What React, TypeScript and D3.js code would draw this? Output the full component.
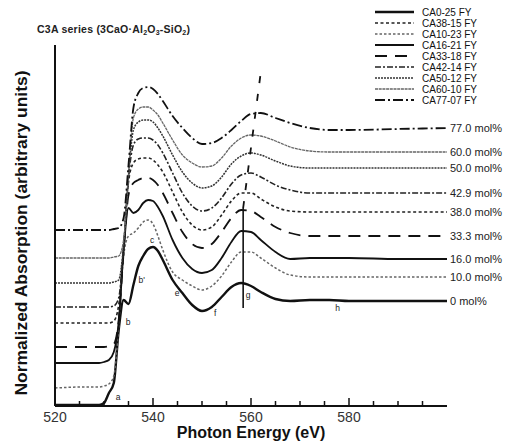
import React from "react";
import * as d3 from "d3";

// photon energy grid (eV) shared by all spectra
const energy = [520, 526, 529, 530, 531, 532, 533, 534, 535, 536, 537, 538, 539, 540, 541, 542, 544, 546, 548, 550, 552, 554, 556, 558, 560, 562, 565, 568, 572, 576, 580, 590, 600];

// normalized absorption, stacked (arbitrary units)
const ca0_25 = [0.1, 0.1, 0.1, 0.3, 1.3, 2.3, 7.6, 10.6, 10.2, 12.1, 14.0, 15.0, 15.7, 15.9, 15.5, 14.6, 12.6, 11.3, 10.1, 9.5, 9.9, 10.9, 11.9, 12.3, 12.0, 11.4, 10.7, 10.5, 10.6, 10.6, 10.5, 10.5, 10.5];
const ca10_23 = [1.8, 1.9, 1.9, 2.0, 2.2, 3.0, 8.0, 15.0, 17.0, 17.3, 17.8, 18.4, 18.6, 18.2, 17.0, 15.6, 13.4, 12.6, 12.0, 11.6, 12.0, 13.0, 14.4, 15.4, 15.4, 14.8, 13.8, 13.1, 12.9, 12.9, 12.9, 12.9, 12.9];
const ca16_21 = [4.3, 4.3, 4.3, 4.4, 4.6, 5.4, 8.4, 15.6, 19.8, 19.3, 19.6, 20.3, 20.6, 20.5, 19.9, 19.0, 16.6, 14.8, 13.7, 13.3, 13.6, 14.8, 16.4, 17.5, 17.4, 16.6, 15.4, 14.7, 14.8, 14.8, 14.8, 14.7, 14.7];
const ca33_18 = [5.9, 5.9, 5.9, 5.9, 6.0, 6.2, 8.6, 15.4, 21.1, 22.3, 22.6, 22.8, 22.8, 22.6, 22.1, 21.3, 19.3, 17.4, 16.2, 15.8, 16.2, 17.4, 18.8, 19.6, 19.5, 18.9, 17.9, 17.3, 17.0, 17.0, 17.0, 17.0, 17.0];
const ca38_15 = [8.3, 8.3, 8.3, 8.3, 8.3, 8.5, 10.1, 15.6, 22.4, 24.3, 24.7, 24.8, 24.8, 24.6, 24.1, 23.4, 21.4, 19.4, 18.1, 17.6, 17.9, 19.1, 20.5, 21.3, 21.3, 20.7, 19.9, 19.5, 19.4, 19.4, 19.4, 19.4, 19.4];
const ca42_14 = [9.9, 9.9, 9.9, 9.9, 9.9, 10.0, 10.8, 15.8, 22.8, 26.1, 26.7, 26.8, 26.8, 26.6, 26.1, 25.3, 23.3, 21.3, 20.0, 19.5, 19.8, 20.8, 22.2, 23.1, 23.3, 22.9, 22.1, 21.6, 21.3, 21.3, 21.3, 21.3, 21.3];
const ca50_12 = [12.3, 12.3, 12.3, 12.3, 12.3, 12.4, 12.6, 16.1, 23.0, 27.6, 28.4, 28.6, 28.6, 28.4, 27.8, 27.0, 25.1, 23.4, 22.3, 21.8, 22.0, 22.9, 24.2, 25.0, 25.3, 25.1, 24.5, 24.0, 23.8, 23.8, 23.8, 23.8, 23.8];
const ca60_10 = [14.8, 14.8, 14.8, 14.8, 14.8, 14.9, 15.0, 16.6, 23.2, 28.8, 29.7, 29.9, 29.9, 29.6, 29.1, 28.3, 26.6, 25.1, 24.3, 23.9, 24.0, 24.8, 26.0, 26.8, 27.1, 27.0, 26.5, 25.9, 25.5, 25.4, 25.4, 25.4, 25.4];
const ca77_07 = [17.6, 17.6, 17.6, 17.6, 17.6, 17.7, 17.8, 18.8, 24.1, 29.8, 31.3, 31.8, 31.9, 31.7, 31.2, 30.5, 29.0, 27.8, 26.8, 26.2, 26.3, 26.8, 27.6, 28.5, 29.2, 29.3, 28.8, 28.3, 27.8, 27.6, 27.6, 27.7, 27.8];

// legend order
const legendNames = ["CA0-25 FY", "CA38-15 FY", "CA10-23 FY", "CA16-21 FY", "CA33-18 FY", "CA42-14 FY", "CA50-12 FY", "CA60-10 FY", "CA77-07 FY"];
const molLabels = ["0 mol%", "38.0 mol%", "10.0 mol%", "16.0 mol%", "33.3 mol%", "42.9 mol%", "50.0 mol%", "60.0 mol%", "77.0 mol%"];
const spectra = [ca0_25, ca38_15, ca10_23, ca16_21, ca33_18, ca42_14, ca50_12, ca60_10, ca77_07];

const xTicks = [520, 540, 560, 580];

// feature labels on the 0 mol% spectrum
const peakNames = ["a", "b", "b'", "c", "e", "f", "g", "h"];
const peakEnergy = [532.9, 534.9, 537.7, 539.8, 544.9, 552.7, 559.4, 577.7];
const peakLevel = [0.9, 8.4, 12.6, 16.6, 11.3, 9.3, 11.1, 9.8];

const lineStyles = [
  { w: 2.4, dash: "", c: "#111" },
  { w: 1.6, dash: "3,2.5", c: "#222" },
  { w: 1.5, dash: "2.5,2", c: "#666" },
  { w: 1.8, dash: "", c: "#111" },
  { w: 1.8, dash: "12,8", c: "#111" },
  { w: 1.6, dash: "6,2,2,2", c: "#222" },
  { w: 1.5, dash: "2,1", c: "#333" },
  { w: 1.3, dash: "3,0.7", c: "#666" },
  { w: 1.8, dash: "10,3,2,3", c: "#111" },
];

const font = "'Liberation Sans', Arial, sans-serif";

export default function App() {
  const x = d3.scaleLinear().domain([520, 600]).range([55, 447]);
  const y = d3.scaleLinear().domain([0, 36.1]).range([406, 45]);

  const line = d3
    .line<number>()
    .x((_, i) => x(energy[i]))
    .y((d) => y(d))
    .curve(d3.curveMonotoneX);

  const minor = d3.range(520, 600, 5);

  return (
    <svg width={505} height={441} style={{ position: "absolute", left: 0, top: 0, background: "#fff" }} fontFamily={font}>
      {/* title */}
      <text x={37} y={33} fontSize={10.5} fontWeight="bold" fill="#222" textLength={153} lengthAdjust="spacing">
        C3A series (3CaO·Al<tspan fontSize={7} dy={2}>2</tspan>
        <tspan dy={-2}>O</tspan>
        <tspan fontSize={7} dy={2}>3</tspan>
        <tspan dy={-2}>-SiO</tspan>
        <tspan fontSize={7} dy={2}>2</tspan>
        <tspan dy={-2}>)</tspan>
      </text>

      {/* spectra */}
      {spectra.map((s, i) => (
        <path
          key={legendNames[i]}
          d={line(s) || ""}
          fill="none"
          stroke={lineStyles[i].c}
          strokeWidth={lineStyles[i].w}
          strokeDasharray={lineStyles[i].dash || undefined}
        />
      ))}

      {/* end labels */}
      {spectra.map((s, i) => (
        <text key={molLabels[i]} x={x(600) + 3} y={y(s[s.length - 1])} dy="0.35em" fontSize={11} fill="#222">
          {molLabels[i]}
        </text>
      ))}

      {/* peak g marker and shift line */}
      <line x1={x(558.4)} x2={x(558.4)} y1={y(19.8)} y2={y(9.8)} stroke="#111" strokeWidth={1.6} />
      <line x1={x(558.4)} y1={y(19.8)} x2={x(562)} y2={y(33.4)} stroke="#111" strokeWidth={1.8} strokeDasharray="7,11" />

      {/* feature letters */}
      {peakNames.map((n, i) => (
        <text key={n} x={x(peakEnergy[i])} y={y(peakLevel[i])} dy="0.35em" textAnchor="middle" fontSize={8.5} fill="#222">
          {n}
        </text>
      ))}

      {/* legend */}
      {legendNames.map((n, i) => (
        <g key={n} transform={`translate(375,${12 + i * 11})`}>
          <line x1={0} x2={39} stroke={lineStyles[i].c} strokeWidth={lineStyles[i].w} strokeDasharray={lineStyles[i].dash || undefined} />
          <text x={47} dy="0.35em" fontSize={10} fill="#111">
            {n}
          </text>
        </g>
      ))}

      {/* axes */}
      <line x1={x(520)} x2={x(520)} y1={y(36.1)} y2={y(0)} stroke="#111" strokeWidth={2} />
      <line x1={x(520)} x2={x(600)} y1={y(0)} y2={y(0)} stroke="#111" strokeWidth={2} />
      {minor.map((t) => (
        <line key={t} x1={x(t)} x2={x(t)} y1={y(0)} y2={y(0) - (t % 20 === 0 ? 8 : 5)} stroke="#111" strokeWidth={1.5} />
      ))}
      {xTicks.map((t) => (
        <text key={t} x={x(t)} y={422} textAnchor="middle" fontSize={14} fill="#333">
          {t}
        </text>
      ))}
      <text x={251} y={438} textAnchor="middle" fontSize={16} fontWeight="bold" fill="#111">
        Photon Energy (eV)
      </text>
      <text
        transform="translate(27,233) rotate(-90)"
        textAnchor="middle"
        fontSize={16}
        fontWeight="bold"
        fill="#111"
        textLength={325}
        lengthAdjust="spacingAndGlyphs"
      >
        Normalized Absorption (arbitrary units)
      </text>
    </svg>
  );
}
